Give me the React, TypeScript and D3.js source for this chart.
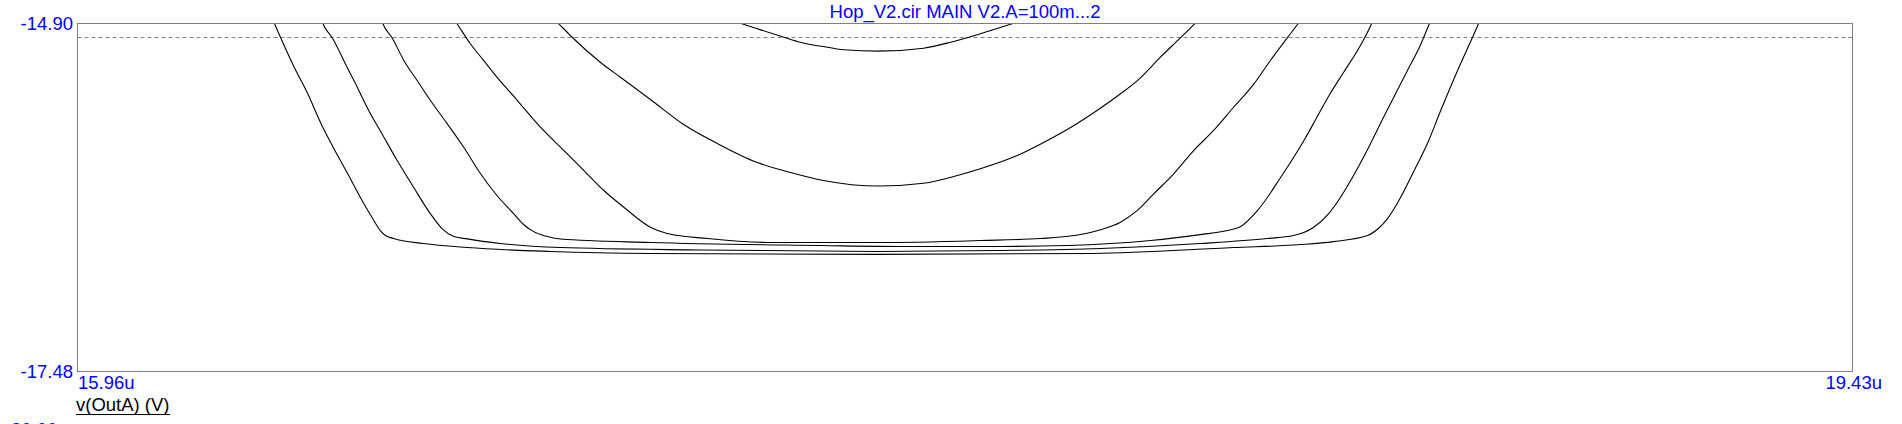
import React from "react";
import * as d3 from "d3";

const W = 1902;
const H = 424;

const xDomain = [15.96, 19.43];
const yDomain = [-17.48, -14.9];
const yTickValues = [-14.9, -17.48];
const yTickLabels = ["-14.90", "-17.48"];
const xTickValues = [15.96, 19.43];
const xTickLabels = ["15.96u", "19.43u"];
const refLevel = -15.0;
const title = "Hop_V2.cir MAIN V2.A=100m...2";
const traceLabel = "v(OutA) (V)";
const nextAxisLabel = "20.00";

// time (us) / voltage (V) pairs, one per stepped run
const tA = [17.211, 17.259, 17.289, 17.341, 17.373, 17.426, 17.458, 17.526, 17.614, 17.667, 17.699, 17.725, 17.787, 17.839];
const vA = [-14.841, -14.902, -14.939, -15.002, -15.039, -15.076, -15.095, -15.105, -15.083, -15.039, -15.006, -14.976, -14.902, -14.841];

const tB = [16.873, 16.901, 16.927, 16.982, 17.022, 17.08, 17.145, 17.211, 17.289, 17.354, 17.418, 17.526, 17.614, 17.68, 17.725, 17.797, 17.856, 17.908, 17.953, 17.999, 18.032, 18.077, 18.116, 18.144, 18.171];
const vB = [-14.796, -14.902, -15.002, -15.187, -15.3, -15.463, -15.649, -15.79, -15.931, -16.005, -16.064, -16.105, -16.084, -16.027, -15.977, -15.879, -15.767, -15.656, -15.545, -15.421, -15.323, -15.15, -15.006, -14.902, -14.796];

const tC = [16.683, 16.702, 16.728, 16.754, 16.78, 16.82, 16.859, 16.911, 16.95, 16.989, 17.028, 17.08, 17.113, 17.192, 17.321, 17.522, 17.725, 17.843, 17.901, 17.96, 17.999, 18.032, 18.064, 18.103, 18.142, 18.181, 18.22, 18.26, 18.292, 18.325, 18.346, 18.365];
const vC = [-14.796, -14.902, -15.05, -15.174, -15.298, -15.471, -15.644, -15.842, -15.99, -16.138, -16.262, -16.41, -16.457, -16.494, -16.524, -16.524, -16.509, -16.494, -16.476, -16.429, -16.373, -16.286, -16.163, -16.014, -15.842, -15.693, -15.521, -15.347, -15.174, -15.006, -14.902, -14.796];

const tD = [16.548, 16.557, 16.575, 16.598, 16.624, 16.65, 16.683, 16.715, 16.748, 16.78, 16.813, 16.832, 16.851, 16.875, 16.904, 17.08, 17.413, 17.569, 17.764, 17.895, 18.058, 18.155, 18.208, 18.234, 18.267, 18.312, 18.361, 18.383, 18.409, 18.435, 18.468, 18.49, 18.501];
const vD = [-14.796, -14.902, -15.006, -15.174, -15.323, -15.471, -15.644, -15.817, -16.014, -16.175, -16.311, -16.39, -16.441, -16.476, -16.498, -16.524, -16.546, -16.553, -16.553, -16.546, -16.509, -16.465, -16.435, -16.405, -16.286, -16.042, -15.745, -15.595, -15.419, -15.263, -15.063, -14.9, -14.796];

const tE = [16.431, 16.44, 16.458, 16.487, 16.507, 16.526, 16.559, 16.585, 16.617, 16.65, 16.673, 16.696, 16.722, 16.787, 16.904, 17.178, 17.522, 17.764, 17.96, 18.155, 18.286, 18.337, 18.376, 18.406, 18.425, 18.449, 18.484, 18.513, 18.56, 18.585, 18.603, 18.615];
const vE = [-14.796, -14.902, -15.006, -15.224, -15.372, -15.521, -15.743, -15.916, -16.114, -16.311, -16.422, -16.479, -16.497, -16.531, -16.561, -16.579, -16.59, -16.583, -16.568, -16.531, -16.494, -16.472, -16.412, -16.309, -16.212, -16.064, -15.819, -15.597, -15.248, -15.063, -14.9, -14.796];

const tF = [16.333, 16.345, 16.357, 16.382, 16.41, 16.435, 16.46, 16.488, 16.513, 16.537, 16.552, 16.562, 16.578, 16.636, 16.722, 16.885, 17.08, 17.522, 17.946, 18.22, 18.351, 18.415, 18.482, 18.503, 18.521, 18.54, 18.576, 18.599, 18.625, 18.658, 18.687, 18.699, 18.711];
const vF = [-14.796, -14.9, -15.004, -15.211, -15.419, -15.634, -15.819, -16.012, -16.19, -16.346, -16.435, -16.472, -16.494, -16.531, -16.561, -16.59, -16.605, -16.612, -16.605, -16.561, -16.539, -16.517, -16.472, -16.42, -16.346, -16.234, -15.968, -15.79, -15.545, -15.248, -15.004, -14.9, -14.796];

const runs = [
  { t: tA, v: vA },
  { t: tB, v: vB },
  { t: tC, v: vC },
  { t: tD, v: vD },
  { t: tE, v: vE },
  { t: tF, v: vF },
];

const FONT = "'Liberation Sans', Arial, sans-serif";
const BLUE = "#0000ff";
const GRAY = "#808080";

export default function App() {
  const left = 77.5;
  const right = 1852.5;
  const top = 23.5;
  const bottom = 371.5;

  const x = d3.scaleLinear().domain(xDomain).range([left, right]);
  const y = d3.scaleLinear().domain(yDomain).range([bottom, top]);

  const paths = runs.map((r) =>
    d3
      .line<number>()
      .x((_, i) => x(r.t[i]))
      .y((d) => y(d))
      .curve(d3.curveMonotoneX)(r.v) as string
  );

  const refY = Math.round(y(refLevel)) + 0.5;

  return (
    <svg
      width={W}
      height={H}
      style={{ position: "absolute", left: 0, top: 0, background: "#fff", overflow: "hidden" }}
      fontFamily={FONT}
    >
      <defs>
        <clipPath id="plotClip">
          <rect x={left} y={top} width={right - left} height={bottom - top} />
        </clipPath>
      </defs>
      <rect x={0} y={0} width={W} height={H} fill="#fff" />
      <text x={(left + right) / 2} y={18} fontSize={18.5} fill={BLUE} textAnchor="middle">
        {title}
      </text>
      <line x1={left} x2={right} y1={refY} y2={refY} stroke={GRAY} strokeWidth={1} strokeDasharray="4,3" />
      <g clipPath="url(#plotClip)">
        {paths.map((d, i) => (
          <path key={i} d={d} fill="none" stroke="#000" strokeWidth={1.1} />
        ))}
      </g>
      <rect x={left} y={top} width={right - left} height={bottom - top} fill="none" stroke={GRAY} strokeWidth={1} />
      {yTickValues.map((v, i) => (
        <text key={"y" + i} x={73} y={y(v) + 6} fontSize={18.5} fill={BLUE} textAnchor="end">
          {yTickLabels[i]}
        </text>
      ))}
      {xTickValues.map((v, i) => (
        <text
          key={"x" + i}
          x={i === 0 ? x(v) + 0.5 : x(v) + 29.5}
          y={389}
          fontSize={18.5}
          fill={BLUE}
          textAnchor={i === 0 ? "start" : "end"}
        >
          {xTickLabels[i]}
        </text>
      ))}
      <text x={76} y={411} fontSize={18.5} fill="#000">
        {traceLabel}
      </text>
      <line x1={76} x2={170} y1={414.5} y2={414.5} stroke="#000" strokeWidth={1} />
      <text x={11} y={436} fontSize={18.5} fill={BLUE}>
        {nextAxisLabel}
      </text>
    </svg>
  );
}
